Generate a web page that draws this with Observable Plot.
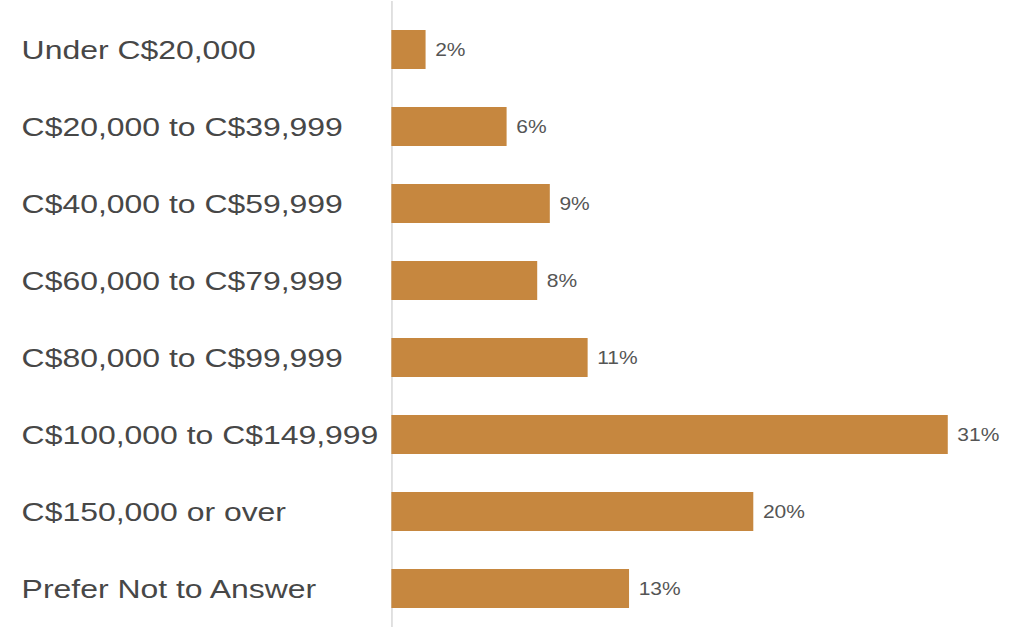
<!DOCTYPE html>
<html>
<head>
<meta charset="utf-8">
<script src="https://cdn.jsdelivr.net/npm/d3@7"></script>
<script src="https://cdn.jsdelivr.net/npm/@observablehq/plot@0.6"></script>
<style>
  html, body { margin: 0; padding: 0; background: #fff; overflow: hidden; }
  #chart { width: 1030px; height: 627px; }
</style>
</head>
<body>
<div id="chart"></div>
<script>
const categories = [
  "Under C$20,000",
  "C$20,000 to C$39,999",
  "C$40,000 to C$59,999",
  "C$60,000 to C$79,999",
  "C$80,000 to C$99,999",
  "C$100,000 to C$149,999",
  "C$150,000 or over",
  "Prefer Not to Answer"
];
const values = [1.9, 6.4, 8.8, 8.1, 10.9, 30.9, 20.1, 13.2];
const valueLabels = ["2%", "6%", "9%", "8%", "11%", "31%", "20%", "13%"];

const data = categories.map((c, i) => ({category: c, value: values[i], label: valueLabels[i]}));

// The reference is rendered horizontally stretched; draw at a narrower width and stretch.
const stretch = 1030 / 858;

const chart = Plot.plot({
  width: 858,
  height: 627,
  marginLeft: 326,
  marginRight: 7,
  marginTop: 19,
  marginBottom: 8,
  style: {
    fontFamily: "'Liberation Sans', Arial, sans-serif",
    background: "#fff",
    transform: `scaleX(${stretch})`,
    transformOrigin: "0 0",
    overflow: "visible"
  },
  x: {domain: [0, 35], axis: null},
  y: {domain: categories, paddingInner: 0.5, paddingOuter: 0.1, label: null},
  marks: [
    Plot.ruleX([0], {stroke: "#dedede", strokeWidth: 1.5, insetTop: -18, insetBottom: -10}),
    Plot.barX(data, {x: "value", y: "category", fill: "#C6873F"}),
    Plot.text(data, {
      x: "value", y: "category", text: "label",
      textAnchor: "start", dx: 7.5, fontSize: 17.5, fill: "#555"
    }),
    Plot.axisY({
      tickSize: 0, tickPadding: 0, textAnchor: "start", dx: -308.5,
      fontSize: 26.6, color: "#474747", label: null
    })
  ]
});
document.getElementById("chart").appendChild(chart);
</script>
</body>
</html>
